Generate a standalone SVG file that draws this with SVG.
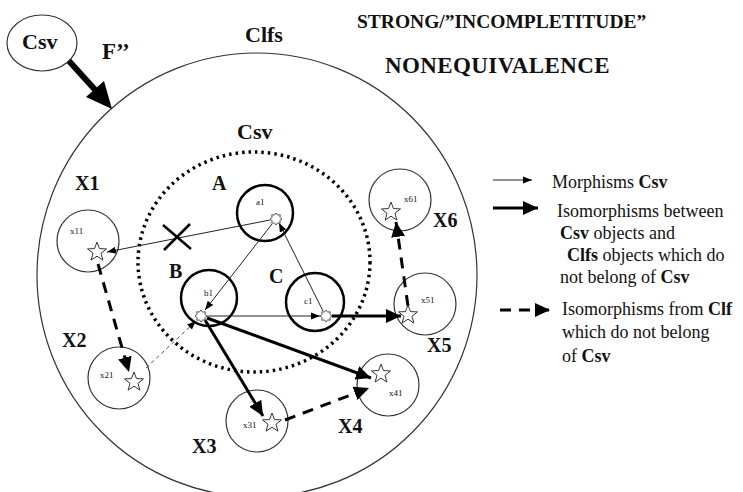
<svg xmlns="http://www.w3.org/2000/svg" xmlns:xlink="http://www.w3.org/1999/xlink" width="743" height="492" viewBox="0 0 743 492">
  <style>
    .lbl { font-family: "Liberation Serif", "Times New Roman", serif; font-weight: bold; fill: #111; }
    .big { font-size: 20px; }
    .tiny { font-family: "Liberation Serif", "Times New Roman", serif; font-size: 9px; fill: #111; }
    .leg { font-family: "Liberation Serif", "Times New Roman", serif; font-size: 18px; fill: #111; }
    .leg tspan.b { font-weight: bold; }
    .obj { fill: none; stroke: #000; stroke-width: 2.5; }
    .sub { fill: none; stroke: #333; stroke-width: 1.2; }
    .thin { fill: none; stroke: #222; stroke-width: 1; }
    .thick { fill: none; stroke: #000; stroke-width: 3; }
    .dash { fill: none; stroke: #000; stroke-width: 3; stroke-dasharray: 11 8; }
    .dashthin { fill: none; stroke: #555; stroke-width: 1; stroke-dasharray: 4 3; }
    .star { fill: #fff; stroke: #333; stroke-width: 1; }
    .pt { fill: #fff; stroke: #555; stroke-width: 1; }
  </style>
  <defs>
    <marker id="mThin" markerUnits="userSpaceOnUse" markerWidth="10" markerHeight="8" refX="9" refY="4" orient="auto">
      <path d="M0,0.5 L9,4 L0,7.5 Z" fill="#000"/>
    </marker>
    <marker id="mThick" markerUnits="userSpaceOnUse" markerWidth="16" markerHeight="14" refX="15" refY="7" orient="auto">
      <path d="M0,0 L15,7 L0,14 Z" fill="#000"/>
    </marker>
    <path id="star" d="M0,-10 L2.47,-3.4 L9.51,-3.09 L3.99,1.3 L5.88,8.09 L0,4.2 L-5.88,8.09 L-3.99,1.3 L-9.51,-3.09 L-2.47,-3.4 Z"/>
    <path id="pt" d="M6,0 L3.88,1.61 L4.24,4.24 L1.61,3.88 L0,6 L-1.61,3.88 L-4.24,4.24 L-3.88,1.61 L-6,0 L-3.88,-1.61 L-4.24,-4.24 L-1.61,-3.88 L0,-6 L1.61,-3.88 L4.24,-4.24 L3.88,-1.61 Z"/>
  </defs>
  <rect width="743" height="492" fill="#fff"/>

  <!-- titles -->
  <text class="lbl" x="357" y="28" font-size="19.5">STRONG/”INCOMPLETITUDE”</text>
  <text class="lbl" x="385" y="73" font-size="23" letter-spacing="0.4">NONEQUIVALENCE</text>

  <!-- outer category Clfs -->
  <g id="clfs">
    <ellipse cx="257" cy="275" rx="220" ry="222" fill="none" stroke="#333" stroke-width="1.2"/>
    <text class="lbl" x="245" y="42" font-size="22">Clfs</text>
  </g>

  <!-- external Csv and functor F'' -->
  <g id="csv-ext">
    <ellipse cx="42" cy="43" rx="35" ry="28" fill="none" stroke="#333" stroke-width="1.2"/>
    <text class="lbl" x="22" y="49" font-size="22">Csv</text>
  </g>
  <g id="functor">
    <line x1="69" y1="61" x2="98" y2="93" stroke="#000" stroke-width="6"/>
    <path d="M112,109 L86,97 L104,81 Z" fill="#000"/>
    <text class="lbl" x="102" y="59" font-size="23">F’’</text>
  </g>

  <!-- subcategory Csv -->
  <g id="csv">
    <ellipse cx="254" cy="262" rx="116" ry="110" fill="none" stroke="#000" stroke-width="3.5" stroke-dasharray="2.5 4"/>
    <text class="lbl" x="237" y="139" font-size="22">Csv</text>
  </g>

  <!-- objects of Csv -->
  <g id="A">
    <circle class="obj" cx="265" cy="213" r="28"/>
    <text class="lbl big" x="212" y="190">A</text>
    <text class="tiny" x="256" y="205">a1</text>
  </g>
  <g id="B">
    <circle class="obj" cx="209" cy="298" r="28"/>
    <text class="lbl big" x="169" y="278">B</text>
    <text class="tiny" x="204" y="296">b1</text>
  </g>
  <g id="C">
    <circle class="obj" cx="315" cy="302" r="29"/>
    <text class="lbl big" x="269" y="283">C</text>
    <text class="tiny" x="304" y="304">c1</text>
  </g>

  <!-- objects of Clfs outside Csv -->
  <g id="X1">
    <circle class="sub" cx="88" cy="241" r="31"/>
    <text class="lbl big" x="75" y="190">X1</text>
    <text class="tiny" x="70" y="234">x11</text>
  </g>
  <g id="X2">
    <circle class="sub" cx="119" cy="378" r="31"/>
    <text class="lbl big" x="62" y="347">X2</text>
    <text class="tiny" x="100" y="378">x21</text>
  </g>
  <g id="X3">
    <circle class="sub" cx="257" cy="421" r="31"/>
    <text class="lbl big" x="192" y="453">X3</text>
    <text class="tiny" x="243" y="428">x31</text>
  </g>
  <g id="X4">
    <circle class="sub" cx="388" cy="385" r="31"/>
    <text class="lbl big" x="338" y="433">X4</text>
    <text class="tiny" x="389" y="396">x41</text>
  </g>
  <g id="X5">
    <circle class="sub" cx="425" cy="304" r="31"/>
    <text class="lbl big" x="427" y="352">X5</text>
    <text class="tiny" x="421" y="303">x51</text>
  </g>
  <g id="X6">
    <circle class="sub" cx="400" cy="200" r="31"/>
    <text class="lbl big" x="433" y="227">X6</text>
    <text class="tiny" x="404" y="202">x61</text>
  </g>

  <!-- connectors -->
  <g id="connectors">
    <line class="thin" x1="272" y1="224" x2="205" y2="310" marker-end="url(#mThin)"/>
    <line class="thin" x1="323" y1="311" x2="279" y2="223" marker-end="url(#mThin)"/>
    <line class="thin" x1="207" y1="316" x2="320" y2="316" marker-end="url(#mThin)"/>
    <line class="thin" x1="270" y1="220" x2="107" y2="252" marker-end="url(#mThin)"/>
    <line x1="163" y1="225" x2="191" y2="249" stroke="#000" stroke-width="2.5"/>
    <line x1="190" y1="224" x2="164" y2="250" stroke="#000" stroke-width="2.5"/>
    <line class="dashthin" x1="146" y1="368" x2="196" y2="321" marker-end="url(#mThin)"/>
    <line class="thick" x1="205" y1="320" x2="263" y2="416" marker-end="url(#mThick)"/>
    <line class="thick" x1="207" y1="318" x2="371" y2="378" marker-end="url(#mThick)"/>
    <line class="thick" x1="332" y1="316" x2="401" y2="316" marker-end="url(#mThick)"/>
    <line class="dash" x1="98" y1="264" x2="129" y2="372" marker-end="url(#mThick)"/>
    <line class="dash" x1="285" y1="420" x2="369" y2="388" marker-end="url(#mThick)"/>
    <line class="dash" x1="408" y1="306" x2="396" y2="222" marker-end="url(#mThick)"/>
  </g>

  <!-- elements inside objects -->
  <g id="elements">
    <use xlink:href="#pt" class="pt" x="276" y="219"/>
    <use xlink:href="#pt" class="pt" x="201" y="316"/>
    <use xlink:href="#pt" class="pt" x="326" y="316"/>
    <use xlink:href="#star" class="star" x="97" y="252"/>
    <use xlink:href="#star" class="star" x="134" y="382"/>
    <use xlink:href="#star" class="star" x="272" y="423"/>
    <use xlink:href="#star" class="star" x="381" y="374"/>
    <use xlink:href="#star" class="star" x="408" y="315"/>
    <use xlink:href="#star" class="star" x="391" y="212"/>
  </g>

  <!-- legend -->
  <g id="legend">
    <line class="thin" x1="493" y1="180" x2="532" y2="180" marker-end="url(#mThin)"/>
    <text class="leg" x="552" y="188">Morphisms <tspan class="b">Csv</tspan></text>
    <line class="thick" x1="493" y1="208" x2="538" y2="208" marker-end="url(#mThick)"/>
    <text class="leg" x="557" y="217">Isomorphisms between</text>
    <text class="leg" x="560" y="239"><tspan class="b">Csv</tspan> objects and</text>
    <text class="leg" x="567" y="261"><tspan class="b">Clfs</tspan> objects which do</text>
    <text class="leg" x="560" y="283">not belong of <tspan class="b">Csv</tspan></text>
    <line class="dash" x1="500" y1="310" x2="550" y2="310" stroke-dasharray="12 11" marker-end="url(#mThick)"/>
    <text class="leg" x="562" y="315">Isomorphisms from <tspan class="b">Clf</tspan></text>
    <text class="leg" x="562" y="338">which do not belong</text>
    <text class="leg" x="562" y="362">of <tspan class="b">Csv</tspan></text>
  </g>
</svg>
